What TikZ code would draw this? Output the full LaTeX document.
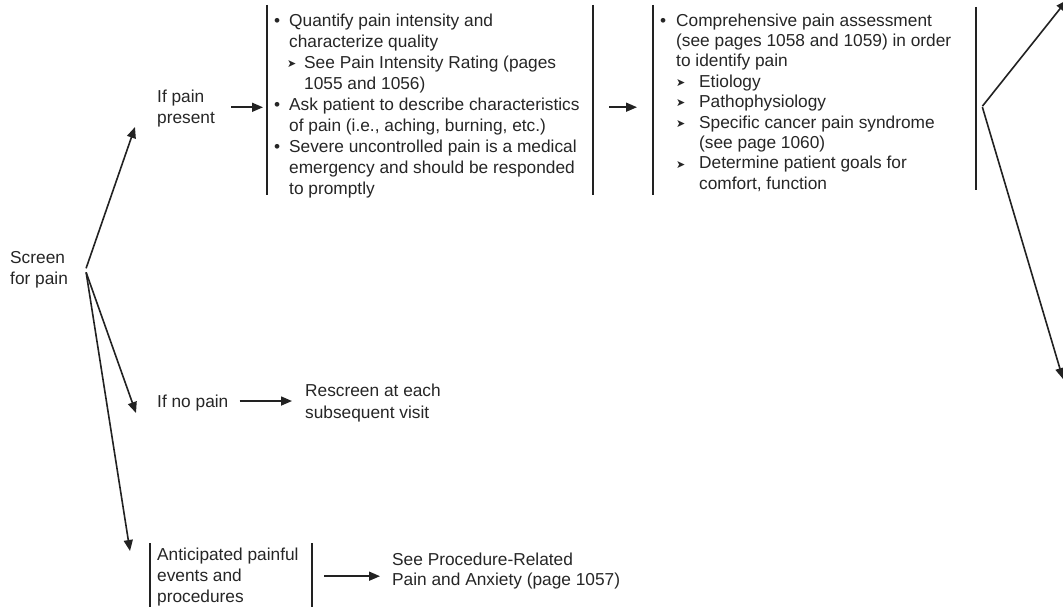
\documentclass[tikz,border=0pt]{standalone}
\usepackage{fontspec}
\setmainfont{Liberation Sans}
\newfontfamily\dejavu{DejaVu Sans}
\usetikzlibrary{arrows.meta,calc}
\definecolor{ink}{HTML}{262626}
\definecolor{lineink}{HTML}{222222}
\newcommand\subarr{\raisebox{0.8pt}{\dejavu\fontsize{11}{11}\selectfont ➤}}
\newcommand\bul{\textbullet}
\newcommand\mylines[1]{\begin{tabular}[t]{@{}l@{}}#1\end{tabular}}
\begin{document}
\begin{tikzpicture}[x=1pt,y=-1pt,
  txt/.style={anchor=base west, inner sep=0pt, text=ink, font=\fontsize{17.3}{21}\selectfont},
  barbox/.style={anchor=north west, inner sep=0pt, text=ink},
  arr/.style={draw=lineink, line width=1.6pt, -{Triangle[length=11pt,width=9pt]}},
  bar/.style={draw=lineink, line width=2pt}]
\useasboundingbox[fill=white] (0,0) rectangle (1063,609);

% text nodes
\node[txt] (scr) at (10,264) {\mylines{Screen\\for pain}};
\node[txt] (ip) at (157,103) {\mylines{If pain\\present}};
\node[txt] (np) at (157,407) {If no pain};
\node[txt] (rs) at (305,397) {\mylines{Rescreen at each\\subsequent visit}};
\node[txt, font=\fontsize{17.3}{20}\selectfont] (sp) at (392,565) {\mylines{See Procedure-Related\\Pain and Anxiety (page 1057)}};

% box 1
\node[barbox] (b1) at (267,5) {\begin{minipage}[t][190pt][t]{326pt}\fontsize{17.3}{21}\selectfont\raggedright
\rule{0pt}{21pt}\hspace*{7pt}\makebox[15pt][l]{\bul}Quantify pain intensity and\\
\hspace*{22pt}characterize quality\\
\hspace*{20pt}\makebox[17pt][l]{\subarr}See Pain Intensity Rating (pages\\
\hspace*{37pt}1055 and 1056)\\
\hspace*{7pt}\makebox[15pt][l]{\bul}Ask patient to describe characteristics\\
\hspace*{22pt}of pain (i.e., aching, burning, etc.)\\
\hspace*{7pt}\makebox[15pt][l]{\bul}Severe uncontrolled pain is a medical\\
\hspace*{22pt}emergency and should be responded\\
\hspace*{22pt}to promptly
\end{minipage}};

% box 2
\node[barbox] (b2) at (653,5) {\begin{minipage}[t][190pt][t]{323pt}\fontsize{17.3}{20.4}\selectfont\raggedright
\rule{0pt}{21pt}\hspace*{7pt}\makebox[16pt][l]{\bul}Comprehensive pain assessment\\
\hspace*{23pt}(see pages 1058 and 1059) in order\\
\hspace*{23pt}to identify pain\\
\hspace*{23pt}\makebox[23pt][l]{\subarr}Etiology\\
\hspace*{23pt}\makebox[23pt][l]{\subarr}Pathophysiology\\
\hspace*{23pt}\makebox[23pt][l]{\subarr}Specific cancer pain syndrome\\
\hspace*{46pt}(see page 1060)\\
\hspace*{23pt}\makebox[23pt][l]{\subarr}Determine patient goals for\\
\hspace*{46pt}comfort, function
\end{minipage}};

% box 3
\node[barbox] (b3) at (150,543) {\begin{minipage}[t][64pt][t]{162pt}\fontsize{17.3}{21}\selectfont\raggedright
\rule{0pt}{17pt}\hspace*{7pt}Anticipated painful\\
\hspace*{7pt}events and\\
\hspace*{7pt}procedures
\end{minipage}};

% bars
\draw[bar] (b1.north west) -- (b1.south west) (b1.north east) -- (b1.south east);
\draw[bar] (b2.north west) -- (b2.south west) ($(b2.north east)+(0,2)$) -- ($(b2.south east)+(0,-5)$);
\draw[bar] (b3.north west) -- (b3.south west) (b3.north east) -- (b3.south east);

% free arrow ends
\coordinate (t1) at (135,127);
\coordinate (t2) at (136,413);
\coordinate (t3) at (130,551);
\coordinate (ru) at (1067,0);
\coordinate (rd) at (1063,379);

% connectors
\draw[arr] ($(scr.east)+(18,-2)$) -- (t1);
\draw[arr] ($(scr.east)+(18,2)$) -- (t2);
\draw[arr] ($(scr.east)+(18,2)$) -- (t3);
\draw[arr] ($(ip.east)+(16,-2)$) -- ($(ip.east -| b1.west)+(-4,-2)$);
\draw[arr] ($(b1.east)+(16,7)$) -- ($(b2.west)+(-16,7)$);
\draw[arr] ($(np.east)+(11,-1.5)$) -- ($(np.east -| rs.west)+(-13,-1.5)$);
\draw[arr] ($(b3.east)+(12,1)$) -- ($(b3.east -| sp.west)+(-12,1)$);
\draw[arr] ($(b2.east)+(6,6)$) -- (ru);
\draw[arr] ($(b2.east)+(6,7)$) -- (rd);
\end{tikzpicture}
\end{document}
